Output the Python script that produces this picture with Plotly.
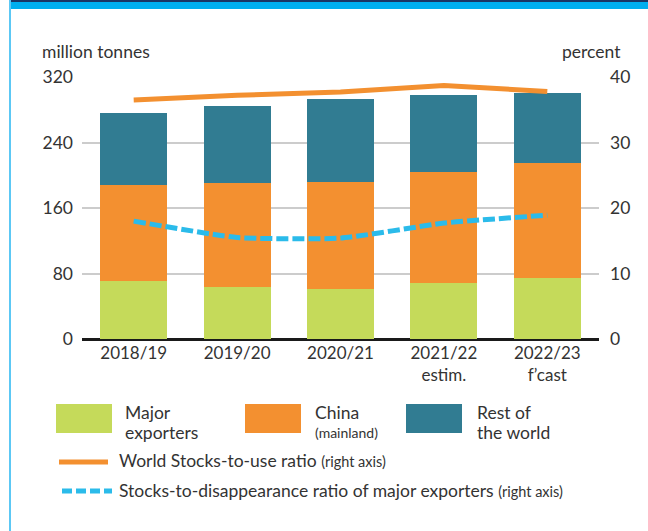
import plotly.graph_objects as go

# --- Data ---
seasons = ["2018/19", "2019/20", "2020/21", "2021/22<br>estim.", "2022/23<br>f’cast"]
major_exporters = [71, 64, 61, 69, 74]
china_mainland = [117, 127, 131, 135, 141]
rest_of_world = [88, 93, 101, 94, 85]
world_stocks_to_use = [36.5, 37.2, 37.7, 38.7, 37.8]
major_exp_stocks_to_disapp = [18.0, 15.5, 15.4, 17.7, 18.9]

GREEN = "#c5da5a"
ORANGE = "#f39030"
TEAL = "#317c92"
BLUE = "#2bbbea"
TXT = "#333333"
FONT = "Lato"
FS = 17.5

W, H = 648, 531
L, R, T, B = 82, 599, 77, 339  # plot area in pixels


def px(x):
    return (x - L) / (R - L)


def py(y):
    return (B - y) / (B - T)


fig = go.Figure()

fig.add_bar(x=seasons, y=major_exporters, name="Major exporters", marker_color=GREEN)
fig.add_bar(x=seasons, y=china_mainland, name="China (mainland)", marker_color=ORANGE)
fig.add_bar(x=seasons, y=rest_of_world, name="Rest of the world", marker_color=TEAL)

fig.add_scatter(x=seasons, y=world_stocks_to_use, yaxis="y2", mode="lines",
                line=dict(color=ORANGE, width=5), name="World Stocks-to-use ratio")
fig.add_scatter(x=seasons, y=major_exp_stocks_to_disapp, yaxis="y2", mode="lines",
                line=dict(color=BLUE, width=5, dash="12px,4px", shape="spline", smoothing=0.5),
                name="Stocks-to-disappearance ratio of major exporters")

fig.update_traces(marker_line_width=0, selector=dict(type="bar"))

fig.update_layout(
    width=W, height=H,
    margin=dict(l=L, r=W - R, t=T, b=H - B),
    paper_bgcolor="white", plot_bgcolor="white",
    barmode="stack", bargap=0.352,
    showlegend=False,
    font=dict(family=FONT, size=FS, color=TXT),
    xaxis=dict(showgrid=False, ticks="", tickfont=dict(size=17, color=TXT),
               showline=False, zeroline=False, ticklabelstandoff=2),
    yaxis=dict(range=[0, 320], tickvals=[0, 80, 160, 240, 320], showgrid=True,
               gridcolor="#cccccc", gridwidth=1.5, zeroline=True, zerolinecolor="#1a1a1a",
               zerolinewidth=2.5, ticks="", ticklabelstandoff=8, tickfont=dict(size=FS, color=TXT)),
    yaxis2=dict(range=[0, 40], tickvals=[0, 10, 20, 30, 40], overlaying="y", side="right",
                showgrid=False, zeroline=False, ticks="", ticklabelstandoff=10,
                tickfont=dict(size=FS, color=TXT)),
)

# axis titles
fig.add_annotation(text="million tonnes", xref="paper", yref="paper", x=px(40), y=py(52),
                   xanchor="left", yanchor="middle", showarrow=False)
fig.add_annotation(text="percent", xref="paper", yref="paper", x=px(623), y=py(52),
                   xanchor="right", yanchor="middle", showarrow=False)

# frame: top band and left rule
fig.add_shape(type="rect", xref="paper", yref="paper", x0=px(9), x1=px(W), y0=py(9), y1=py(0),
              fillcolor="#00aeef", line_width=0, layer="above")
fig.add_shape(type="rect", xref="paper", yref="paper", x0=px(9), x1=px(W), y0=py(2), y1=py(0),
              fillcolor="#1b3564", line_width=0, layer="above")
fig.add_shape(type="rect", xref="paper", yref="paper", x0=px(9), x1=px(11), y0=py(H), y1=py(0),
              fillcolor="#5cc8f5", line_width=0, layer="above")


def label(text, x, y, size=FS):
    fig.add_annotation(text=text, xref="paper", yref="paper", x=px(x), y=py(y),
                       xanchor="left", yanchor="middle", showarrow=False, font=dict(size=size))


# custom legend: boxes
boxes = [(56, 112, GREEN, 123, "Major", "exporters", FS),
         (245, 301, ORANGE, 313, "China", "(mainland)", 14),
         (406, 462, TEAL, 475, "Rest of", "the world", FS)]
for x0, x1, col, tx, line1, line2, size2 in boxes:
    fig.add_shape(type="rect", xref="paper", yref="paper", x0=px(x0), x1=px(x1),
                  y0=py(433), y1=py(404), fillcolor=col, line_width=0)
    label(line1, tx, 412.5)
    label(line2, tx, 432, size2)

# custom legend: lines
fig.add_shape(type="line", xref="paper", yref="paper", x0=px(59), x1=px(108), y0=py(462), y1=py(462),
              line=dict(color=ORANGE, width=5))
label("World Stocks-to-use ratio <span style='font-size:14.5px'>(right axis)</span>", 117, 460)
fig.add_shape(type="line", xref="paper", yref="paper", x0=px(62), x1=px(112), y0=py(491), y1=py(491),
              line=dict(color=BLUE, width=5, dash="10px,4px"))
label("Stocks-to-disappearance ratio of major exporters "
      "<span style='font-size:14.5px'>(right axis)</span>", 117, 490)

fig.write_html("out.html", config={"displayModeBar": False},
               post_script="document.body.style.margin='0';")
